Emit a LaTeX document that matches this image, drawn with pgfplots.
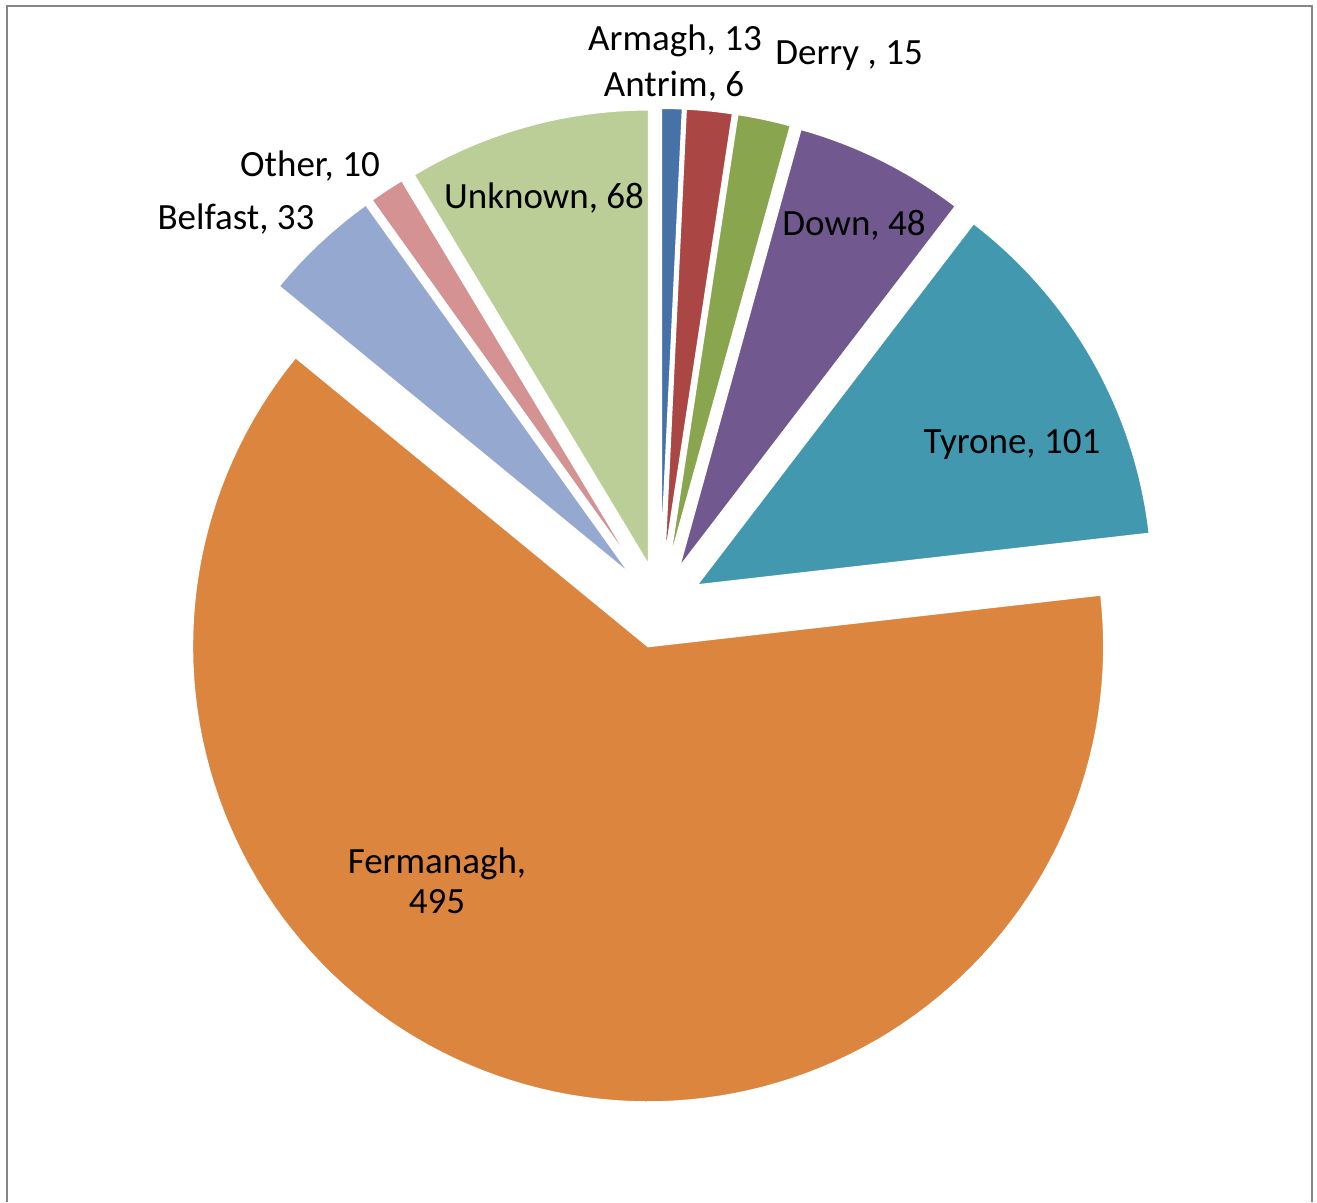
\documentclass[border=0pt]{standalone}
\usepackage{pgfplots}
\pgfplotsset{compat=1.18}
\usepackage{fontspec}
\setmainfont{Carlito}
\definecolor{cAntrim}{RGB}{70,114,167}
\definecolor{cArmagh}{RGB}{170,71,68}
\definecolor{cDerry}{RGB}{137,166,79}
\definecolor{cDown}{RGB}{113,89,144}
\definecolor{cTyrone}{RGB}{66,152,175}
\definecolor{cFerm}{RGB}{219,133,62}
\definecolor{cBelfast}{RGB}{149,169,208}
\definecolor{cOther}{RGB}{212,147,146}
\definecolor{cUnknown}{RGB}{187,206,151}
\definecolor{frame}{RGB}{134,134,134}
\begin{document}
\begin{tikzpicture}[font=\fontsize{18.5pt}{22pt}\selectfont]
\begin{axis}[width=658.5pt,height=601pt,scale only axis,
  xmin=0,xmax=1317,ymin=0,ymax=1202,y dir=reverse,
  hide axis,clip=false]
\path (axis cs:0,0) rectangle (axis cs:1317,1202);
\draw[frame,line width=1pt] (axis cs:7,1202) -- (axis cs:7,6) -- (axis cs:1312,6) -- (axis cs:1312,1202);
\xdef\cum{0}
\foreach \v/\c in {6/cAntrim,13/cArmagh,15/cDerry,48/cDown,101/cTyrone,495/cFerm,33/cBelfast,10/cOther,68/cUnknown}{
  \pgfmathsetmacro{\aone}{90-\cum/789*360}
  \pgfmathsetmacro{\atwo}{90-(\cum+\v)/789*360}
  \pgfmathsetmacro{\amid}{(\aone+\atwo)/2}
  \pgfmathsetmacro{\px}{660+42*cos(\amid)}
  \pgfmathsetmacro{\py}{606-42*sin(\amid)}
  \edef\temp{\noexpand\addplot[fill=\c,draw=white,line width=1pt,domain=\atwo:\aone,samples=120]
    ({\px+456*cos(x)},{\py-456*sin(x)}) -- (axis cs:\px,\py) -- cycle;}
  \temp
  \pgfmathsetmacro{\newcum}{\cum+\v}
  \xdef\cum{\newcum}
}
\node[anchor=base] at (axis cs:675,51) {Armagh, 13};
\node[anchor=base] at (axis cs:674,97) {Antrim, 6};
\node[anchor=base] at (axis cs:849,65) {Derry , 15};
\node[anchor=base] at (axis cs:854,236) {Down, 48};
\node[anchor=base] at (axis cs:1012,453) {Tyrone, 101};
\node[anchor=base] at (axis cs:437,873) {Fermanagh,};
\node[anchor=base] at (axis cs:437,913) {495};
\node[anchor=base] at (axis cs:236,230) {Belfast, 33};
\node[anchor=base] at (axis cs:310,177) {Other, 10};
\node[anchor=base] at (axis cs:544,209) {Unknown, 68};
\end{axis}
\end{tikzpicture}
\end{document}
